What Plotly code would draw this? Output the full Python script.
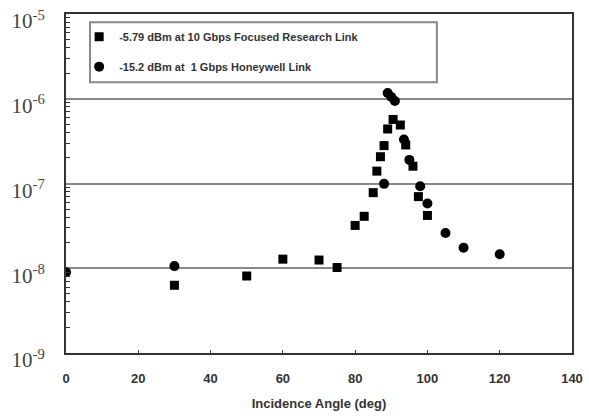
import plotly.graph_objects as go

# Focused Research link (squares)
fr_angle = [30, 50, 60, 70, 75, 80, 82.5, 85, 86, 87, 88, 89, 90.5, 92.5, 94, 96, 97.5, 100]
fr_ber = [6.3e-9, 8.1e-9, 1.28e-8, 1.25e-8, 1.02e-8, 3.2e-8, 4.1e-8, 7.8e-8, 1.4e-7, 2.07e-7,
          2.8e-7, 4.4e-7, 5.7e-7, 4.9e-7, 2.85e-7, 1.6e-7, 7.0e-8, 4.2e-8]

# Honeywell link (circles)
hw_angle = [0, 30, 88, 89, 90, 91, 93.5, 95, 98, 100, 105, 110, 120]
hw_ber = [9.0e-9, 1.06e-8, 9.9e-8, 1.17e-6, 1.05e-6, 9.4e-7, 3.3e-7, 1.9e-7, 9.3e-8, 5.8e-8,
          2.6e-8, 1.75e-8, 1.46e-8]

x_ticks = [0, 20, 40, 60, 80, 100, 120, 140]
y_ticks = [1e-9, 1e-8, 1e-7, 1e-6, 1e-5]
y_ticktext = ["10<sup>-9</sup>", "10<sup>-8</sup>", "10<sup>-7</sup>", "10<sup>-6</sup>", "10<sup>-5</sup>"]
y_minor = [m * 10.0 ** e for e in range(-9, -5) for m in range(2, 10)]

fig = go.Figure()
fig.add_trace(go.Scatter(
    x=fr_angle, y=fr_ber, mode="markers",
    name="-5.79 dBm at 10 Gbps Focused Research Link",
    marker=dict(symbol="square", size=9, color="black"),
    legendgroup="a",
))
fig.add_trace(go.Scatter(
    x=hw_angle, y=hw_ber, mode="markers",
    name="-15.2 dBm at  1 Gbps Honeywell Link",
    marker=dict(symbol="circle", size=10, color="black"),
    legendgroup="b",
))

# legend frame
fig.add_shape(type="rect", xref="paper", yref="paper",
              x0=0.0474, x1=0.733, y0=0.799, y1=0.976,
              line=dict(color="#888", width=2), fillcolor="rgba(0,0,0,0)", layer="above")

fig.update_layout(
    width=589, height=416,
    margin=dict(l=66, r=17, t=14, b=63),
    plot_bgcolor="white", paper_bgcolor="white",
    font=dict(family="Liberation Sans", color="#333"),
    showlegend=True,
    legend=dict(
        x=0.026, y=0.976, xanchor="left", yanchor="top",
        borderwidth=0, bgcolor="rgba(0,0,0,0)",
        font=dict(family="Liberation Sans", size=11, color="#333", weight="bold"),
        tracegroupgap=11,
    ),
    xaxis=dict(
        range=[0, 140], tickvals=x_ticks, ticks="inside", ticklen=3,
        tickcolor="#333", showgrid=False, zeroline=False, automargin=False,
        ticklabeloverflow="allow", ticklabelstandoff=12,
        showline=True, linecolor="#333", linewidth=2, mirror=True,
        tickfont=dict(family="Liberation Sans", size=13, color="#333", weight="bold"),
        title=dict(text="Incidence Angle (deg)", standoff=14,
                   font=dict(family="Liberation Sans", size=13, color="#333", weight="bold")),
    ),
    yaxis=dict(
        type="log", range=[-9, -5], tickvals=y_ticks, ticktext=y_ticktext,
        ticks="", showgrid=True, gridcolor="#888", gridwidth=2, zeroline=False,
        automargin=False, ticklabelstandoff=15, ticklabelshift=7, ticklabeloverflow="allow",
        showline=True, linecolor="#333", linewidth=2, mirror=True,
        minor=dict(ticks="inside", ticklen=4, tickcolor="#333", tickvals=y_minor, showgrid=False),
        tickfont=dict(family="Liberation Serif", size=21, color="#444"),
    ),
)

fig.write_html("out.html", config={"displayModeBar": False},
               post_script="document.body.style.margin='0';document.body.style.padding='0';")
